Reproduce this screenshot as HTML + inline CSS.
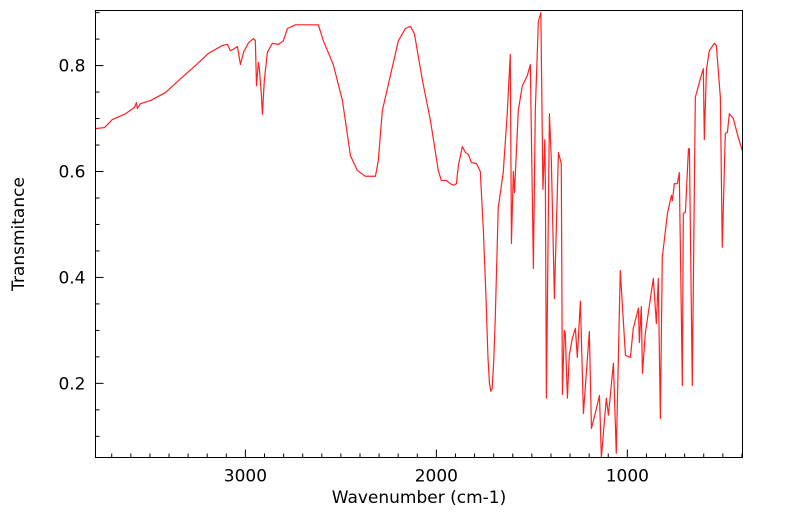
<!DOCTYPE html>
<html><head><meta charset="utf-8"><style>
html,body{margin:0;padding:0;background:#fff;}
svg{display:block;font-family:"DejaVu Sans","Liberation Sans",sans-serif;}
</style></head><body>
<svg id="chart" width="799" height="516" xmlns="http://www.w3.org/2000/svg">
<text x="0" y="0" transform="translate(24,234) rotate(-90)" text-anchor="middle" font-size="17" fill="#000">Transmitance</text>
<text x="419" y="503" text-anchor="middle" font-size="17" fill="#000">Wavenumber (cm-1)</text>
</svg>
<script>
const wavenumbers=[3785,3738,3697,3628,3581,3571,3566,3550,3497,3419,3340,3262,3194,3120,3094,3079,3058,3042,3026,3010,2984,2958,2948,2942,2932,2926,2916,2911,2901,2885,2859,2827,2801,2780,2738,2686,2618,2592,2540,2492,2450,2414,2372,2319,2304,2283,2241,2199,2162,2136,2115,2073,2031,2000,1990,1974,1948,1927,1911,1895,1885,1864,1848,1832,1817,1790,1770,1754,1740,1730,1722,1715,1708,1700,1692,1676,1650,1629,1613,1607,1597,1591,1571,1550,1524,1508,1492,1482,1466,1453,1442,1432,1429,1424,1408,1398,1382,1361,1346,1340,1330,1325,1314,1304,1288,1272,1262,1246,1230,1199,1188,1167,1146,1136,1110,1099,1073,1058,1037,1010,984,969,942,937,927,921,906,864,848,838,827,817,790,769,764,754,738,728,712,707,696,680,675,660,644,618,602,597,586,571,544,534,513,503,487,476,466,445,419,393];
const transmittance=[0.681,0.683,0.698,0.709,0.721,0.730,0.719,0.728,0.734,0.749,0.775,0.800,0.823,0.838,0.840,0.828,0.832,0.836,0.802,0.825,0.843,0.851,0.847,0.762,0.806,0.791,0.743,0.708,0.772,0.825,0.842,0.840,0.847,0.870,0.877,0.877,0.877,0.847,0.802,0.734,0.630,0.602,0.591,0.591,0.621,0.715,0.781,0.847,0.870,0.874,0.860,0.772,0.696,0.625,0.602,0.583,0.583,0.577,0.574,0.577,0.611,0.647,0.636,0.632,0.617,0.615,0.600,0.489,0.360,0.250,0.200,0.185,0.190,0.240,0.319,0.532,0.598,0.709,0.821,0.464,0.600,0.560,0.715,0.762,0.781,0.802,0.417,0.715,0.883,0.900,0.566,0.660,0.566,0.172,0.709,0.621,0.360,0.636,0.615,0.179,0.300,0.294,0.172,0.253,0.285,0.304,0.249,0.355,0.143,0.298,0.115,0.145,0.177,0.060,0.172,0.140,0.238,0.068,0.413,0.253,0.249,0.304,0.342,0.277,0.345,0.219,0.294,0.398,0.313,0.398,0.134,0.438,0.521,0.555,0.545,0.577,0.577,0.598,0.196,0.521,0.523,0.643,0.643,0.196,0.740,0.775,0.794,0.660,0.791,0.828,0.842,0.838,0.740,0.457,0.672,0.674,0.709,0.700,0.664,0.634];
const xTicks=[3000,2000,1000];
const yTicks=[0.2,0.4,0.6,0.8];
const NS="http://www.w3.org/2000/svg";
const svg=document.getElementById('chart');
const L=95.5,R=742.5,T=10.5,B=457.5;
const X0=3785,X1=397,Y0=0.060,Y1=0.904;
function xs(w){return L+(X0-w)/(X0-X1)*(R-L);}
function ys(v){return B-(v-Y0)/(Y1-Y0)*(B-T);}
function mk(tag,attrs){const e=document.createElementNS(NS,tag);for(const k in attrs)e.setAttribute(k,attrs[k]);svg.appendChild(e);return e;}
const clip=mk('clipPath',{id:'pc'});
const cr=document.createElementNS(NS,'rect');cr.setAttribute('x',L);cr.setAttribute('y',T);cr.setAttribute('width',R-L);cr.setAttribute('height',B-T);clip.appendChild(cr);
let d='';
for(let i=0;i<wavenumbers.length;i++){d+=(i?'L':'M')+xs(wavenumbers[i]).toFixed(2)+','+ys(transmittance[i]).toFixed(2);}
const line=mk('path',{d:d,fill:'none',stroke:'#ff2020','stroke-width':1.2,'stroke-linejoin':'round','clip-path':'url(#pc)'});


const frame=mk('rect',{x:L,y:T,width:R-L,height:B-T,fill:'none',stroke:'#000','stroke-width':1});


for(let w=400;w<=3700;w+=100){
  const x=xs(w);const major=xTicks.includes(w);
  const t=mk('line',{x1:x,x2:x,y1:B,y2:B-(major?8:4),stroke:'#000','stroke-width':1});
  
  
}
xTicks.forEach(w=>{
  const t=mk('text',{x:xs(w),y:B+24,'text-anchor':'middle','font-size':17,fill:'#000'});t.textContent=w;
  
  
});
for(let k=2;k<=18;k++){
  const v=k*0.05;const y=ys(v);if(y<T)continue;
  const major=(k%4===0);
  const t=mk('line',{x1:L,x2:L+(major?8:4),y1:y,y2:y,stroke:'#000','stroke-width':1});
  
  
}
yTicks.forEach(v=>{
  const t=mk('text',{x:L-10,y:ys(v)+6,'text-anchor':'end','font-size':17,fill:'#000'});t.textContent=v.toFixed(1);
  
  
});
</script>
</body></html>
